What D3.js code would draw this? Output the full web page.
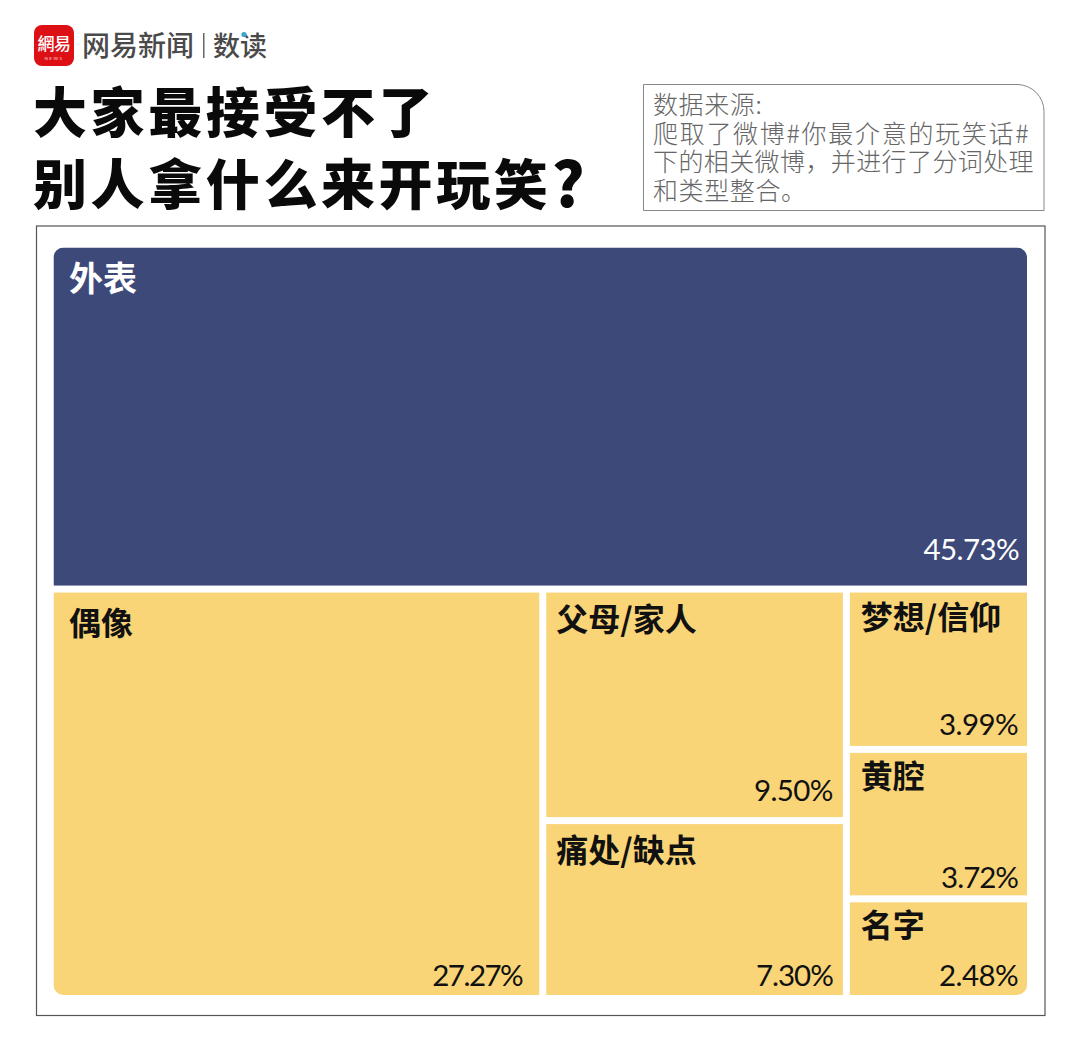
<!DOCTYPE html>
<html lang="zh">
<head>
<meta charset="utf-8">
<script src="https://cdnjs.cloudflare.com/ajax/libs/d3/7.8.5/d3.min.js"></script>
<style>
html,body{margin:0;padding:0;background:#fff}
svg{display:block}
</style>
</head>
<body>
<svg id="chart" width="1080" height="1048"></svg>
<script>
// Share of complaints per joke topic, in treemap columns
const topNames = ["外表"];
const topValues = [45.73];
const idolNames = ["偶像"];
const idolValues = [27.27];
const middleNames = ["父母/家人", "痛处/缺点"];
const middleValues = [9.50, 7.30];
const rightNames = ["梦想/信仰", "黄腔", "名字"];
const rightValues = [3.99, 3.72, 2.48];
const titleLines = ["大家最接受不了", "别人拿什么来开玩笑"];
const titleMark = "?";
const noteLines = ["数据来源:", "爬取了微博#你最介意的玩笑话#", "下的相关微博\uFF0C并进行了分词处理", "和类型整合。"];

const leaves = (names, values) => names.map((name, i) => ({name, value: values[i]}));
const tree = {name: "root", children: [
  ...leaves(topNames, topValues),
  {name: "lower", children: [
    ...leaves(idolNames, idolValues),
    {name: "middle", children: leaves(middleNames, middleValues)},
    {name: "right", children: leaves(rightNames, rightValues)}
  ]}
]};

const CJK = "'Noto Sans CJK SC','Noto Sans',sans-serif";
const svg = d3.select("#chart");

// Logo and masthead
svg.append("rect").attr("x", 34).attr("y", 25).attr("width", 40).attr("height", 41).attr("rx", 8).attr("fill", "#dd1015");
svg.append("text").attr("x", 54).attr("y", 50).attr("text-anchor", "middle").attr("fill", "#fff")
  .attr("font-family", CJK).attr("font-weight", 500).attr("font-size", 17).attr("letter-spacing", -0.5).text("網易");
svg.append("text").attr("x", 54).attr("y", 59.5).attr("text-anchor", "middle").attr("fill", "#fbd0d0")
  .attr("font-family", "Lato").attr("font-size", 4.5).attr("letter-spacing", 1.5).text("NEWS");
svg.append("text").attr("x", 82).attr("y", 56).attr("fill", "#4a4a4a")
  .attr("font-family", CJK).attr("font-weight", 500).attr("font-size", 28).text("网易新闻");
svg.append("rect").attr("x", 203).attr("y", 33).attr("width", 1.5).attr("height", 25).attr("fill", "#666");
svg.append("text").attr("x", 213).attr("y", 56).attr("fill", "#4a4a4a")
  .attr("font-family", CJK).attr("font-weight", 500).attr("font-size", 27).text("数读");
svg.append("circle").attr("cx", 244).attr("cy", 34.5).attr("r", 2.6).attr("fill", "#3aa5c9");

// Headline; the closing question mark is set larger than the characters
const heads = svg.selectAll("text.title").data(titleLines).join("text").attr("class", "title")
  .attr("x", 33).attr("y", (d, i) => 133 + i * 72)
  .attr("fill", "#0a0a0a").attr("font-family", CJK).attr("font-weight", 900)
  .attr("font-size", 54).attr("letter-spacing", 3.6).text(d => d);
heads.filter((d, i) => i === 1).append("tspan").attr("font-size", 62).attr("dy", 2).text(titleMark);

// Source note with one rounded corner
svg.append("path").attr("d", "M643.5 84.5H1017a27 27 0 0 1 27 27V210.5H643.5Z")
  .attr("fill", "#fff").attr("stroke", "#888").attr("stroke-width", 1);
const noteY = [114, 143, 171, 200];
const noteTracking = [0.6, 1.7, 0.4, 0.6];
svg.selectAll("text.note").data(noteLines).join("text").attr("class", "note")
  .attr("x", 653).attr("y", (d, i) => noteY[i])
  .attr("fill", "#666").attr("font-family", CJK).attr("font-weight", 300)
  .attr("font-size", 25).attr("letter-spacing", (d, i) => noteTracking[i]).text(d => d);

// Frame around the treemap
svg.append("rect").attr("x", 36.5).attr("y", 226).attr("width", 1008.5).attr("height", 789.5)
  .attr("fill", "none").attr("stroke", "#555").attr("stroke-width", 1.2);

// Treemap: rows at the top level, columns below, stacked cells inside
const tile = (node, x0, y0, x1, y1) =>
  (node.depth === 1 ? d3.treemapDice : d3.treemapSlice)(node, x0, y0, x1, y1);
const root = d3.treemap().size([973.5, 747.5]).paddingInner(7).tile(tile).round(false)(
  d3.hierarchy(tree).sum(d => d.value || 0)
);
const colour = d3.scaleOrdinal().domain(topNames).range(["#3d4979"]).unknown("#fad577");
const inkColour = d3.scaleOrdinal().domain(topNames).range(["#ffffff"]).unknown("#111111");

const defs = svg.append("defs");
defs.append("clipPath").attr("id", "outer").append("rect")
  .attr("width", 973.5).attr("height", 747.5).attr("rx", 10);

const plot = svg.append("g").attr("transform", "translate(53.5,247.5)");
const cells = plot.append("g").attr("clip-path", "url(#outer)");
cells.selectAll("rect").data(root.leaves()).join("rect")
  .attr("x", d => d.x0).attr("y", d => d.y0)
  .attr("width", d => d.x1 - d.x0).attr("height", d => d.y1 - d.y0)
  .attr("fill", d => colour(d.data.name));

// Label insets per cell: name x, name y, value right, value bottom, value tracking
const insets = {
  "外表": [15.5, 43, 8, 26, -0.6], "偶像": [15.5, 42, 17, 9, -1.5],
  "父母/家人": [10, 38, 10, 16, -0.6], "痛处/缺点": [10, 38, 10, 9, -1],
  "梦想/信仰": [11, 36, 9, 11, -0.6], "黄腔": [11, 35, 9, 7, -1], "名字": [11, 35, 9, 9, -0.6]
};
plot.selectAll("text.name").data(root.leaves()).join("text").attr("class", "name")
  .attr("x", d => d.x0 + insets[d.data.name][0]).attr("y", d => d.y0 + insets[d.data.name][1])
  .attr("fill", d => inkColour(d.data.name)).attr("font-family", CJK).attr("font-weight", 700)
  .attr("font-size", d => d.data.name === "外表" ? 34 : 32).text(d => d.data.name);
plot.selectAll("text.value").data(root.leaves()).join("text").attr("class", "value")
  .attr("x", d => d.x1 - insets[d.data.name][2]).attr("y", d => d.y1 - insets[d.data.name][3])
  .attr("text-anchor", "end").attr("fill", d => inkColour(d.data.name))
  .attr("font-family", "Lato").attr("font-size", 29.5).attr("letter-spacing", d => insets[d.data.name][4])
  .text(d => d.data.value.toFixed(2) + "%");
</script>
</body>
</html>
